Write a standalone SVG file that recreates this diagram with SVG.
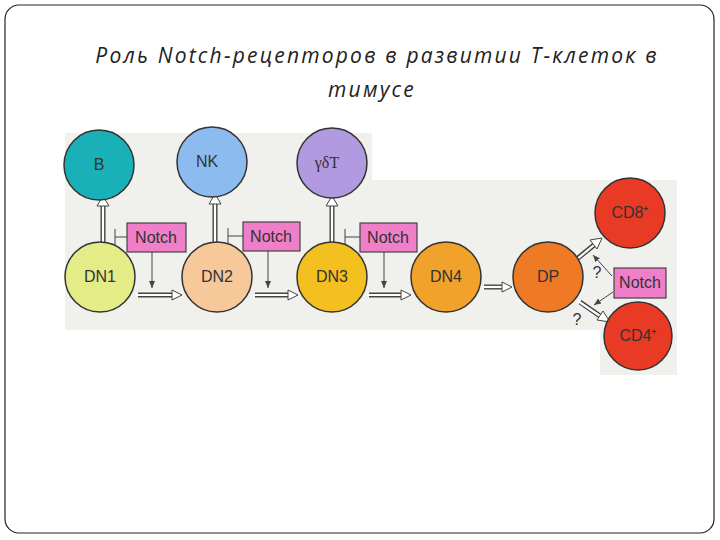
<svg xmlns="http://www.w3.org/2000/svg" width="720" height="540" viewBox="0 0 720 540">
<defs>
<marker id="thin" markerWidth="8" markerHeight="8" refX="7" refY="4" orient="auto" markerUnits="userSpaceOnUse"><path d="M0,1 L7,4 L0,7 Z" fill="#444"/></marker>
</defs>
<style>
.c{stroke:#333;stroke-width:1.5}
.t{font-family:"Liberation Sans",Arial,sans-serif;font-size:16px;fill:#333;text-anchor:middle}
.n{fill:#ee7fc8;stroke:#444;stroke-width:1.2}
.dbo{stroke:#444;stroke-width:5;fill:none}
.dbi{stroke:#fff;stroke-width:2.2;fill:none}
.th{stroke:#444;stroke-width:1;fill:none}
.title{font-family:"Open Sans","Liberation Sans",sans-serif;font-style:italic;font-size:21px;fill:#222;text-anchor:middle;letter-spacing:2.2px}
</style>
<rect x="5" y="5" width="709" height="528" rx="14" fill="#fff" stroke="#222" stroke-width="1.2"/>
<text class="title" x="377" y="63">Роль Notch-рецепторов в развитии Т-клеток в</text>
<text class="title" x="372" y="97">тимусе</text>
<path d="M65,133 H372 V180 H677 V375 H600 V330 H65 Z" fill="#f0f0ec"/>
<g id="connectors">
<g><path class="dbo" d="M103,244 V204"/><path class="dbi" d="M103,246 V204"/><path d="M97,206 L103,196 L109,206 Z" fill="#fff" stroke="#444"/></g>
<g><path class="dbo" d="M215,244 V202"/><path class="dbi" d="M215,246 V202"/><path d="M209,204 L215,194 L221,204 Z" fill="#fff" stroke="#444"/></g>
<g><path class="dbo" d="M332,244 V204"/><path class="dbi" d="M332,246 V204"/><path d="M326,206 L332,196 L338,206 Z" fill="#fff" stroke="#444"/></g>
<path class="th" d="M115,237 H127 M115,229 V245"/>
<path class="th" d="M228,236 H243 M228,228 V244"/>
<path class="th" d="M345,237 H360 M345,229 V245"/>
<path class="th" d="M152,252 V288" marker-end="url(#thin)"/>
<path class="th" d="M268,251 V288" marker-end="url(#thin)"/>
<path class="th" d="M384,252 V288" marker-end="url(#thin)"/>
<g><path class="dbo" d="M138,295 H172"/><path class="dbi" d="M136,295 H172"/><path d="M172,290 L182,295 L172,300 Z" fill="#fff" stroke="#444"/></g>
<g><path class="dbo" d="M255,295 H288"/><path class="dbi" d="M253,295 H288"/><path d="M288,290 L298,295 L288,300 Z" fill="#fff" stroke="#444"/></g>
<g><path class="dbo" d="M369,295 H401"/><path class="dbi" d="M367,295 H401"/><path d="M401,290 L411,295 L401,300 Z" fill="#fff" stroke="#444"/></g>
<g><path class="dbo" d="M484,287 H502"/><path class="dbi" d="M482,287 H502"/><path d="M502,282 L512,287 L502,292 Z" fill="#fff" stroke="#444"/></g>
<g><path class="dbo" d="M578,258 L594,245"/><path class="dbi" d="M576,260 L594,245"/><path d="M590,240 L602,238 L597,249 Z" fill="#fff" stroke="#444"/></g>
<g><path class="dbo" d="M580,302 L600,316"/><path class="dbi" d="M578,301 L600,316"/><path d="M603,311 L610,322 L597,320 Z" fill="#fff" stroke="#444"/></g>
<path class="th" d="M612,276 L593,255" marker-end="url(#thin)"/>
<path class="th" d="M613,292 L594,305" marker-end="url(#thin)"/>
</g>
<text class="t" x="597" y="278">?</text>
<text class="t" x="577" y="325">?</text>
<g id="B"><circle class="c" cx="99" cy="165" r="35" fill="#1ab0b8"/><text class="t" x="99" y="170">B</text></g>
<g id="NK"><circle class="c" cx="212" cy="162" r="35" fill="#8cbcef"/><text class="t" x="207" y="167">NK</text></g>
<g id="gdT"><circle class="c" cx="332" cy="163" r="35" fill="#b19ae0"/><text class="t" x="327" y="168" style="font-family:'Liberation Serif',serif">γδT</text></g>
<g id="DN1"><circle class="c" cx="100" cy="277" r="35" fill="#e4ec88"/><text class="t" x="100" y="282">DN1</text></g>
<g id="DN2"><circle class="c" cx="217" cy="277" r="35" fill="#f6c89a"/><text class="t" x="217" y="282">DN2</text></g>
<g id="DN3"><circle class="c" cx="332" cy="277" r="35" fill="#f4c020"/><text class="t" x="332" y="282">DN3</text></g>
<g id="DN4"><circle class="c" cx="446" cy="277" r="35" fill="#f0a22a"/><text class="t" x="446" y="282">DN4</text></g>
<g id="DP"><circle class="c" cx="548" cy="277" r="35" fill="#ee7a26"/><text class="t" x="548" y="282">DP</text></g>
<g id="CD8"><circle class="c" cx="630" cy="213" r="35" fill="#e83a24"/><text class="t" x="630" y="218">CD8⁺</text></g>
<g id="CD4"><circle class="c" cx="638" cy="336" r="34" fill="#e83a24"/><text class="t" x="638" y="341">CD4⁺</text></g>
<g id="Notch1"><rect class="n" x="127" y="223" width="59" height="29"/><text class="t" x="156" y="243">Notch</text></g>
<g id="Notch2"><rect class="n" x="243" y="222" width="57" height="29"/><text class="t" x="271" y="242">Notch</text></g>
<g id="Notch3"><rect class="n" x="360" y="223" width="57" height="29"/><text class="t" x="388" y="243">Notch</text></g>
<g id="Notch4"><rect class="n" x="614" y="268" width="52" height="30"/><text class="t" x="640" y="288">Notch</text></g>
</svg>
